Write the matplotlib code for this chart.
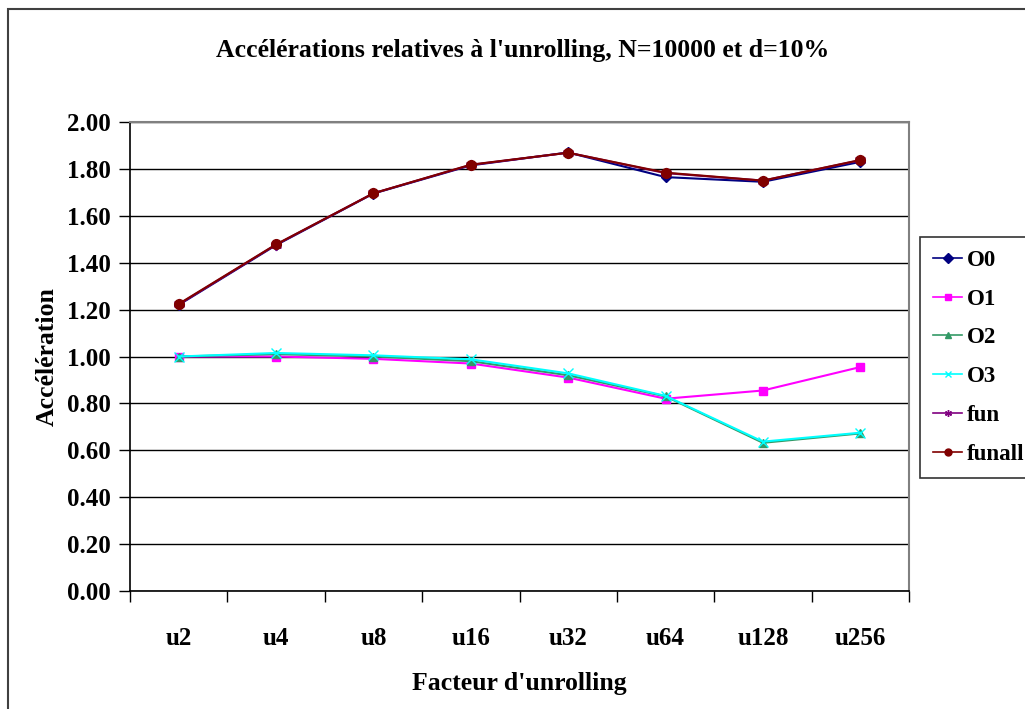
import matplotlib.pyplot as plt
from matplotlib.patches import Rectangle

# Speedups per unrolling factor, N=10000, d=10%
facteurs = ["u2", "u4", "u8", "u16", "u32", "u64", "u128", "u256"]
o0 = [1.22, 1.475, 1.695, 1.815, 1.87, 1.765, 1.745, 1.83]
o1 = [1.00, 1.00, 0.99, 0.97, 0.91, 0.82, 0.855, 0.955]
o2 = [1.00, 1.01, 1.00, 0.98, 0.92, 0.83, 0.632, 0.672]
o3 = [1.00, 1.015, 1.005, 0.988, 0.928, 0.832, 0.637, 0.675]
fun = [1.222, 1.477, 1.696, 1.817, 1.869, 1.782, 1.750, 1.837]
funall = [1.224, 1.478, 1.696, 1.818, 1.869, 1.784, 1.750, 1.838]

series = [
    ("O0", o0, "#000080", "D", 5),
    ("O1", o1, "#ff00ff", "s", 6),
    ("O2", o2, "#339966", "^", 6),
    ("O3", o3, "#00ffff", "x", 7),
    ("fun", fun, "#800080", (6, 2, 0), 8),
    ("funall", funall, "#800000", "o", 7),
]

plt.rcParams["font.family"] = ["Liberation Serif", "DejaVu Serif"]
plt.rcParams["font.weight"] = "bold"

fig = plt.figure(figsize=(10.25, 7.09), dpi=100)
ax = fig.add_axes([130 / 1025, 118 / 709, 779 / 1025, 469 / 709])

x = list(range(len(facteurs)))
for nom, vals, col, mk, ms in series:
    ax.plot(x, vals, color=col, marker=mk, markersize=ms, lw=1.5,
            markeredgecolor=col, markerfacecolor=col, label=nom)

ax.set_xlim(-0.5, len(facteurs) - 0.5)
ax.set_ylim(0, 2.0)
ax.set_yticks([i * 0.2 for i in range(11)])
ax.set_yticklabels([f"{i * 0.2:.2f}" for i in range(11)])
ax.set_xticks(x)
ax.set_xticklabels(facteurs)
ax.set_xticks([i - 0.5 for i in range(len(facteurs) + 1)], minor=True)
ax.tick_params(axis="x", which="major", length=0, pad=26, labelsize=18)
ax.tick_params(axis="x", which="minor", length=8, width=1, direction="out")
ax.tick_params(axis="y", length=8, width=1, direction="out", pad=6, labelsize=18)
ax.yaxis.grid(True, color="black", lw=1)
ax.set_axisbelow(True)
for s in ["top", "right"]:
    ax.spines[s].set_color("#808080")
    ax.spines[s].set_linewidth(1.5)
for s in ["left", "bottom"]:
    ax.spines[s].set_linewidth(1.2)

ax.set_xlabel("Facteur d'unrolling", fontsize=18.5, fontweight="bold", labelpad=16)
ax.set_ylabel("Accélération", fontsize=18.5, fontweight="bold", labelpad=6)
fig.text(523 / 1025, 1 - 50 / 709,
         "Accélérations relatives à l'unrolling, N=10000 et d=10%",
         ha="center", va="center", fontsize=18.5, fontweight="bold")

leg = ax.legend(loc="upper left", bbox_to_anchor=(920 / 1025, 1 - 237 / 709),
                bbox_transform=fig.transFigure, frameon=True, fancybox=False,
                edgecolor="black", fontsize=16.5, handlelength=1.3,
                handletextpad=0.2, labelspacing=0.78, borderpad=0.55,
                borderaxespad=0)
leg.get_frame().set_linewidth(1.2)
for h in leg.legend_handles:
    h.set_markersize(5)
    h.set_linewidth(1.2)

# outer chart frame
fig.patches.append(Rectangle((8 / 1025, -0.1), 1.2, 1.1 - 9 / 709,
                             transform=fig.transFigure, fill=False,
                             edgecolor="#404040", lw=1.5, clip_on=False))

fig.savefig("out.png", dpi=100)
